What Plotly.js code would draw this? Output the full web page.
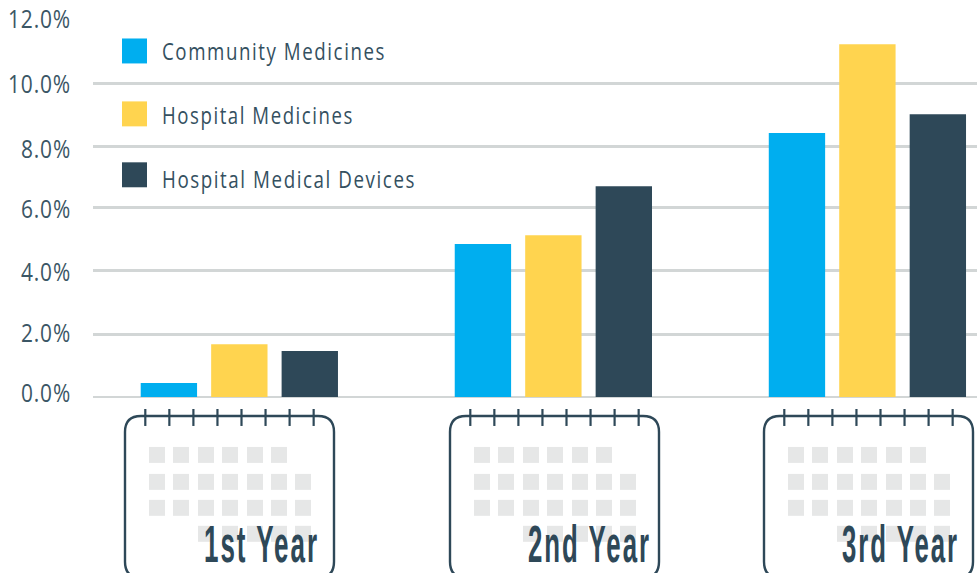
<!DOCTYPE html>
<html><head><meta charset="utf-8">
<script src="https://cdn.plot.ly/plotly-3.0.1.min.js"></script>
<style>
html,body{margin:0;padding:0;background:#fff}
#c{width:977px;height:573px}
</style></head><body><div id="c"></div>
<script>
const categories=["1st Year","2nd Year","3rd Year"];
const seriesNames=["Community Medicines","Hospital Medicines","Hospital Medical Devices"];
const community=[0.45,4.92,8.49];
const hospital=[1.70,5.20,11.35];
const devices=[1.48,6.78,9.10];
const seriesValues=[community,hospital,devices];
const colors=["#00aeef","#ffd44f","#2e4858"];
const tickVals=[0,2.01,4.06,6.10,8.05,10.09,12];
const tickText=["0.0%","2.0%","4.0%","6.0%","8.0%","10.0%","12.0%"];
const tickWidths=[50,50,50,50,50,63,63];
const tickNudge=[-3.8,-1.5,1.3,2,2,1,-4.7];
const labelWidths=[224,192,254];
const yearWidths=[115,123,117];
const W=977,H=573,ML=93,MT=23.5,MB=176;
const font="'Open Sans','Liberation Sans',sans-serif";
const yearFont="'Liberation Sans',sans-serif";
const ink="#2e4858";
const px=x=>(x-ML)/(W-ML), py=y=>(H-MB-y)/(H-MB-MT);
const shapes=[],annotations=[];
const swatchTop=[38,101,162], labelMid=[50,114,178];
seriesNames.forEach((n,i)=>{
  shapes.push({type:"rect",xref:"paper",yref:"paper",x0:px(122),x1:px(147),y0:py(swatchTop[i]+25),y1:py(swatchTop[i]),fillcolor:colors[i],line:{width:0}});
  annotations.push({xref:"paper",yref:"paper",x:px(162),y:py(labelMid[i]),xanchor:"left",yanchor:"middle",showarrow:false,text:n,font:{family:font,size:24,color:"#34505f"}});
});
const calLeft=[125,450,764], yearLeft=[204,528,842], yearRight=[318,650,958];
const rowX=[24,48,73,97,122,146,170], rowY=[31,58,84,110];
const rowCols=[[0,1,2,3,4,5],[0,1,2,3,4,5,6],[0,1,2,3,4,5,6],[2,3,4,5,6]];
categories.forEach((c,k)=>{
  const L=calLeft[k],R=L+209,T=416,B=578,r=16;
  const X=px, Y=py;
  rowCols.forEach((cols,ri)=>cols.forEach(ci=>{
    const x=L+rowX[ci],y=T+rowY[ri];
    shapes.push({type:"rect",xref:"paper",yref:"paper",layer:"above",x0:X(x),x1:X(x+16),y0:Y(y+16),y1:Y(y),fillcolor:"#e6e7e7",line:{width:0}});
  }));
  shapes.push({type:"path",xref:"paper",yref:"paper",layer:"above",line:{color:ink,width:2.4},
    path:`M ${X(L)} ${Y(B-r)} L ${X(L)} ${Y(T+r)} Q ${X(L)} ${Y(T)} ${X(L+r)} ${Y(T)} L ${X(R-r)} ${Y(T)} Q ${X(R)} ${Y(T)} ${X(R)} ${Y(T+r)} L ${X(R)} ${Y(B-r)} Q ${X(R)} ${Y(B)} ${X(R-r)} ${Y(B)} L ${X(L+r)} ${Y(B)} Q ${X(L)} ${Y(B)} ${X(L)} ${Y(B-r)} Z`});
  for(let i=0;i<8;i++){
    const x=L+20.3+i*24.05;
    shapes.push({type:"line",xref:"paper",yref:"paper",layer:"above",x0:X(x),x1:X(x),y0:Y(409),y1:Y(426),line:{color:ink,width:2.2}});
  }
  annotations.push({xref:"paper",yref:"paper",x:X(yearRight[k]),y:Y(544),xanchor:"right",yanchor:"middle",showarrow:false,text:c,font:{family:yearFont,size:52,weight:700,color:ink}});
});
const data=seriesNames.map((n,i)=>({type:"bar",name:n,x:categories,y:seriesValues[i],marker:{color:colors[i]},hoverinfo:"skip"}));
const layout={width:W,height:H,margin:{l:ML,r:0,t:MT,b:MB},paper_bgcolor:"#fff",plot_bgcolor:"#fff",
  barmode:"group",bargap:0.327,bargroupgap:0.2,showlegend:false,
  xaxis:{type:"category",range:[-0.466,2.349],showticklabels:false,showgrid:false,zeroline:false,ticks:""},
  yaxis:{range:[0,12],tickvals:tickVals,ticktext:tickText,showgrid:true,gridcolor:"#d2d6d6",gridwidth:2.6,
    zeroline:true,zerolinecolor:"#d2d6d6",zerolinewidth:2.6,ticks:"",ticklabelstandoff:21,
    tickfont:{family:font,size:25,color:"#3b5665"}},
  shapes,annotations};
function fit(t,w,sp){t.setAttribute("textLength",w);t.setAttribute("lengthAdjust","spacingAndGlyphs");t.style.letterSpacing=sp+"px";}
function pinLeft(t,left){
  const d=left-t.getBoundingClientRect().left;
  t.setAttribute("x",parseFloat(t.getAttribute("x")||0)+d);
}
Plotly.newPlot("c",data,layout,{displayModeBar:false,staticPlot:true}).then(()=>{
  document.querySelectorAll(".annotation-text").forEach(t=>{
    const s=t.textContent;
    let i=seriesNames.indexOf(s);
    if(i>=0){fit(t,labelWidths[i],2);pinLeft(t,162);}
    i=categories.indexOf(s);
    if(i>=0){fit(t,yearWidths[i],4);pinLeft(t,yearLeft[i]);}
  });
  document.querySelectorAll(".ytick text").forEach(t=>{
    const i=tickText.indexOf(t.textContent);
    if(i>=0){fit(t,tickWidths[i],1);t.setAttribute("y",parseFloat(t.getAttribute("y")||0)+tickNudge[i]);}
  });
});
</script></body></html>
